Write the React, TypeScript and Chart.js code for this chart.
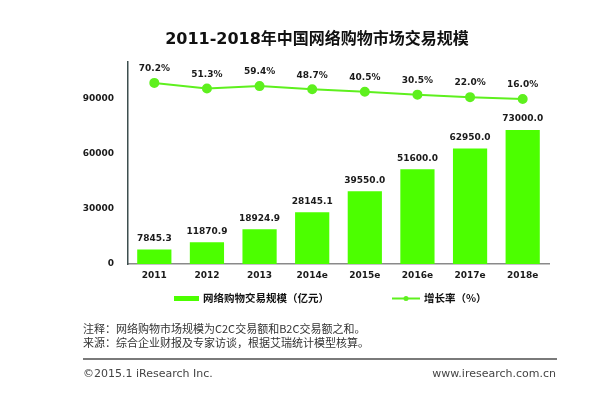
import React, { useEffect, useRef } from "react";
import { Chart, registerables } from "chart.js";

Chart.register(...registerables);

const categories = ["2011", "2012", "2013", "2014e", "2015e", "2016e", "2017e", "2018e"];
const marketSize = [7845.3, 11870.9, 18924.9, 28145.1, 39550.0, 51600.0, 62950.0, 73000.0];
const growthRate = [70.2, 51.3, 59.4, 48.7, 40.5, 30.5, 22.0, 16.0];
const yTicks = [0, 30000, 60000, 90000];
const titleText = "2011-2018年中国网络购物市场交易规模";
const barLabel = "网络购物交易规模（亿元）";
const lineLabel = "增长率（%）";
const note1 = "注释：网络购物市场规模为C2C交易额和B2C交易额之和。";
const note2 = "来源：综合企业财报及专家访谈，根据艾瑞统计模型核算。";
const copyright = "©2015.1 iResearch Inc.";
const website = "www.iresearch.com.cn";

const BAR = "#4cff00";
const LINE = "#5ef01e";
const LATIN = "'DejaVu Sans', 'Noto Sans CJK SC', sans-serif";
const CJK = "'Noto Sans CJK SC', 'DejaVu Sans', sans-serif";

const decorPlugin = {
  id: "decor",
  afterDatasetsDraw(chart: any) {
    const ctx = chart.ctx;
    ctx.save();
    const barMeta = chart.getDatasetMeta(0);
    ctx.font = `bold 9px ${LATIN}`;
    ctx.fillStyle = "#1a1a1a";
    ctx.textAlign = "center";
    ctx.textBaseline = "middle";
    barMeta.data.forEach((el: any, i: number) => {
      ctx.fillText(marketSize[i].toFixed(1), el.x, el.y - 11);
    });
    const lineMeta = chart.getDatasetMeta(1);
    lineMeta.data.forEach((el: any, i: number) => {
      ctx.fillText(growthRate[i].toFixed(1) + "%", el.x, el.y - 14);
    });
    ctx.restore();
  },
  afterDraw(chart: any) {
    const ctx = chart.ctx;
    ctx.save();
    ctx.fillStyle = "#111";
    ctx.font = `bold 16px ${LATIN}`;
    ctx.textAlign = "center";
    ctx.textBaseline = "middle";
    ctx.fillText(titleText, 317, 40);

    ctx.textAlign = "left";
    ctx.fillStyle = BAR;
    ctx.fillRect(174, 296, 25, 5);
    ctx.fillStyle = "#111";
    ctx.font = `bold 10.5px ${CJK}`;
    ctx.fillText(barLabel, 203, 298.5);
    ctx.strokeStyle = LINE;
    ctx.lineWidth = 2;
    ctx.beginPath();
    ctx.moveTo(392, 298.5);
    ctx.lineTo(420, 298.5);
    ctx.stroke();
    ctx.fillStyle = LINE;
    ctx.beginPath();
    ctx.arc(406, 298.5, 2.5, 0, Math.PI * 2);
    ctx.fill();
    ctx.fillStyle = "#111";
    ctx.fillText(lineLabel, 424, 298.5);

    ctx.font = `11px ${CJK}`;
    ctx.fillStyle = "#333";
    ctx.fillText(note1, 83, 329);
    ctx.fillText(note2, 83, 343);

    ctx.strokeStyle = "#7a7a7a";
    ctx.lineWidth = 2;
    ctx.beginPath();
    ctx.moveTo(83, 359);
    ctx.lineTo(557, 359);
    ctx.stroke();

    ctx.font = `11px ${LATIN}`;
    ctx.fillStyle = "#444";
    ctx.fillText(copyright, 83, 374);
    ctx.textAlign = "right";
    ctx.fillText(website, 556, 374);
    ctx.restore();
  },
};

export default function App() {
  const ref = useRef<HTMLCanvasElement>(null);
  useEffect(() => {
    if (!ref.current) return;
    const chart = new Chart(ref.current, {
      type: "bar",
      data: {
        labels: categories,
        datasets: [
          {
            type: "bar",
            label: barLabel,
            data: marketSize,
            backgroundColor: BAR,
            yAxisID: "y",
            barPercentage: 0.65,
            categoryPercentage: 1,
            order: 2,
          },
          {
            type: "line",
            label: lineLabel,
            data: growthRate,
            borderColor: LINE,
            backgroundColor: LINE,
            borderWidth: 2,
            pointRadius: 4,
            pointBackgroundColor: LINE,
            pointBorderColor: LINE,
            yAxisID: "y2",
            order: 1,
          } as any,
        ],
      },
      options: {
        responsive: false,
        animation: false,
        layout: { padding: { left: 0, top: 62, right: 66, bottom: 110 } },
        plugins: {
          legend: { display: false },
          title: { display: false },
          tooltip: { enabled: false },
        },
        scales: {
          x: {
            grid: { display: false, drawTicks: false },
            border: { display: true, color: "#8a8a8a", width: 1.5 },
            ticks: {
              color: "#1a1a1a",
              font: { family: LATIN, size: 9, weight: "bold" },
              padding: 6,
            },
            afterFit: (s: any) => {
              s.height = 20;
            },
          },
          y: {
            min: 0,
            max: 110000,
            grid: { display: false, drawTicks: false },
            border: { display: true, color: "#3d4f4f", width: 1.5 },
            ticks: {
              stepSize: 30000,
              color: "#1a1a1a",
              font: { family: LATIN, size: 9, weight: "bold" },
              padding: 14,
              callback: (v: any) => String(v),
            },
            afterBuildTicks: (s: any) => {
              s.ticks = yTicks.map((v) => ({ value: v }));
            },
            afterFit: (s: any) => {
              s.width = 128;
            },
          },
          y2: {
            display: false,
            position: "right",
            min: -543,
            max: 141,
          },
        },
      },
      plugins: [decorPlugin],
    });
    return () => chart.destroy();
  }, []);
  return (
    <div style={{ position: "fixed", left: 0, top: 0, width: 615, height: 394, background: "#fff" }}>
      <canvas ref={ref} width={615} height={394} />
    </div>
  );
}
